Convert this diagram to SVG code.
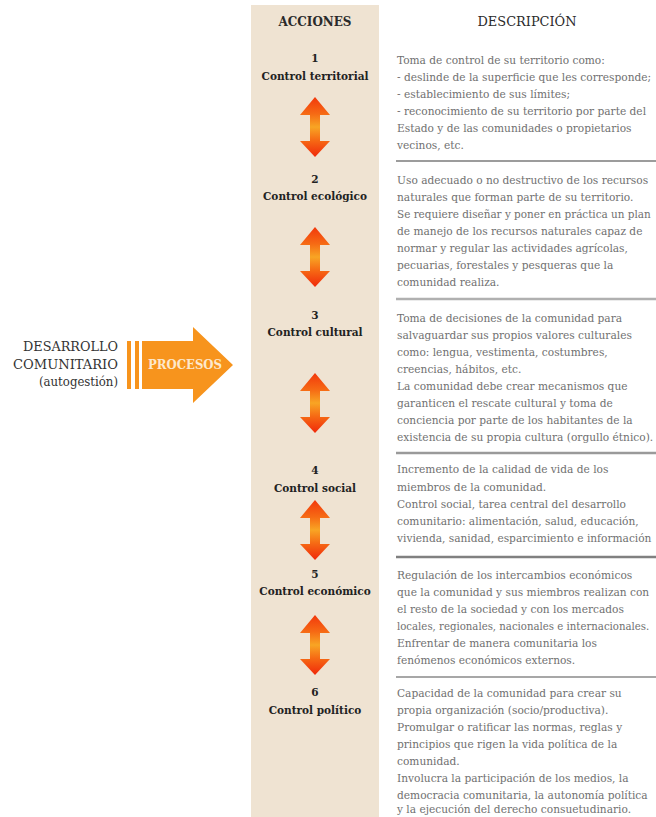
<svg xmlns="http://www.w3.org/2000/svg" width="656" height="817" viewBox="0 0 656 817">
<defs>
<linearGradient id="dg" x1="0" y1="0" x2="0" y2="1">
<stop offset="0" stop-color="#f2380c"/>
<stop offset="0.28" stop-color="#f66a14"/>
<stop offset="0.5" stop-color="#f8a524"/>
<stop offset="0.72" stop-color="#f66a14"/>
<stop offset="1" stop-color="#f0280a"/>
</linearGradient>
<path id="darrow" d="M0,0 L15,18 L5,18 L5,44 L15,44 L0,60 L-15,44 L-5,44 L-5,18 L-15,18 Z" fill="url(#dg)"/>
<style>
text{font-family:'DejaVu Serif','Liberation Serif',serif;font-stretch:condensed}
.hd{font-size:13px;fill:#2a2a2a}
.act{font-size:11.7px;font-weight:bold;fill:#222;text-anchor:middle}
.desc{font-size:11.8px;fill:#707070}
.lft{font-size:13px;fill:#333;text-anchor:end}
.sep{stroke:#9a9a9a;stroke-width:2.5}
</style>
</defs>
<rect width="656" height="817" fill="#ffffff"/>
<rect id="column" x="251" y="5" width="128" height="812" fill="#efe3d2"/>
<g id="headers">
<text class="hd" x="315" y="26" text-anchor="middle" font-weight="bold" textLength="73" lengthAdjust="spacingAndGlyphs">ACCIONES</text>
<text class="hd" x="527" y="26" text-anchor="middle" textLength="99" lengthAdjust="spacingAndGlyphs">DESCRIPCIÓN</text>
</g>
<g id="desarrollo">
<text class="lft" x="118" y="351" textLength="95" lengthAdjust="spacingAndGlyphs">DESARROLLO</text>
<text class="lft" x="118" y="369" textLength="105" lengthAdjust="spacingAndGlyphs">COMUNITARIO</text>
<text class="lft" x="118" y="386" textLength="79" lengthAdjust="spacingAndGlyphs">(autogestión)</text>
</g>
<g id="procesos">
<rect x="127" y="341" width="4" height="48" fill="#f7941d"/>
<rect x="135" y="341" width="4" height="48" fill="#f7941d"/>
<path d="M142,341 L193,341 L193,327 L233,365 L193,403 L193,389 L142,389 Z" fill="#f7941d"/>
<text x="185" y="369" text-anchor="middle" font-size="12.5" font-weight="bold" fill="#fde8cc" textLength="74" lengthAdjust="spacingAndGlyphs">PROCESOS</text>
</g>
<g id="separators">
<line x1="396" y1="161" x2="656" y2="161" stroke="#3a3a3a" stroke-width="1.2"/>
<line class="sep" x1="396" y1="299" x2="656" y2="299" style="stroke:#b0b0b0"/>
<line class="sep" x1="396" y1="453" x2="656" y2="453"/>
<line class="sep" x1="396" y1="557" x2="656" y2="557" style="stroke:#808080"/>
<line class="sep" x1="396" y1="677" x2="656" y2="677" style="stroke:#8a8a8a;stroke-width:1.6"/>
</g>
<g id="accion1">
<text class="act" x="315" y="62">1</text>
<text class="act" x="315" y="80">Control territorial</text>
</g>
<g id="desc1">
<text class="desc" x="397" y="64">Toma de control de su territorio como:</text>
<text class="desc" x="397" y="81">- deslinde de la superficie que les corresponde;</text>
<text class="desc" x="397" y="98">- establecimiento de sus límites;</text>
<text class="desc" x="397" y="115">- reconocimiento de su territorio por parte del</text>
<text class="desc" x="397" y="132">Estado y de las comunidades o propietarios</text>
<text class="desc" x="397" y="149">vecinos, etc.</text>
</g>
<g id="accion2">
<text class="act" x="315" y="183">2</text>
<text class="act" x="315" y="200">Control ecológico</text>
</g>
<g id="desc2">
<text class="desc" x="397" y="184">Uso adecuado o no destructivo de los recursos</text>
<text class="desc" x="397" y="201">naturales que forman parte de su territorio.</text>
<text class="desc" x="397" y="218" style="font-size:11.6px">Se requiere diseñar y poner en práctica un plan</text>
<text class="desc" x="397" y="235">de manejo de los recursos naturales capaz de</text>
<text class="desc" x="397" y="252">normar y regular las actividades agrícolas,</text>
<text class="desc" x="397" y="269">pecuarias, forestales y pesqueras que la</text>
<text class="desc" x="397" y="286">comunidad realiza.</text>
</g>
<g id="accion3">
<text class="act" x="315" y="319">3</text>
<text class="act" x="315" y="336">Control cultural</text>
</g>
<g id="desc3">
<text class="desc" x="397" y="322">Toma de decisiones de la comunidad para</text>
<text class="desc" x="397" y="339">salvaguardar sus propios valores culturales</text>
<text class="desc" x="397" y="356">como: lengua, vestimenta, costumbres,</text>
<text class="desc" x="397" y="373">creencias, hábitos, etc.</text>
<text class="desc" x="397" y="390">La comunidad debe crear mecanismos que</text>
<text class="desc" x="397" y="407">garanticen el rescate cultural y toma de</text>
<text class="desc" x="397" y="424">conciencia por parte de los habitantes de la</text>
<text class="desc" x="397" y="441">existencia de su propia cultura (orgullo étnico).</text>
</g>
<g id="accion4">
<text class="act" x="315" y="474">4</text>
<text class="act" x="315" y="492">Control social</text>
</g>
<g id="desc4">
<text class="desc" x="397" y="473">Incremento de la calidad de vida de los</text>
<text class="desc" x="397" y="491">miembros de la comunidad.</text>
<text class="desc" x="397" y="508">Control social, tarea central del desarrollo</text>
<text class="desc" x="397" y="525">comunitario: alimentación, salud, educación,</text>
<text class="desc" x="397" y="542">vivienda, sanidad, esparcimiento e información</text>
</g>
<g id="accion5">
<text class="act" x="315" y="578">5</text>
<text class="act" x="315" y="595">Control económico</text>
</g>
<g id="desc5">
<text class="desc" x="397" y="579">Regulación de los intercambios económicos</text>
<text class="desc" x="397" y="596">que la comunidad y sus miembros realizan con</text>
<text class="desc" x="397" y="613">el resto de la sociedad y con los mercados</text>
<text class="desc" x="397" y="630" style="font-size:11.3px">locales, regionales, nacionales e internacionales.</text>
<text class="desc" x="397" y="647">Enfrentar de manera comunitaria los</text>
<text class="desc" x="397" y="664">fenómenos económicos externos.</text>
</g>
<g id="accion6">
<text class="act" x="315" y="696">6</text>
<text class="act" x="315" y="714">Control político</text>
</g>
<g id="desc6">
<text class="desc" x="397" y="697">Capacidad de la comunidad para crear su</text>
<text class="desc" x="397" y="714">propia organización (socio/productiva).</text>
<text class="desc" x="397" y="731">Promulgar o ratificar las normas, reglas y</text>
<text class="desc" x="397" y="748">principios que rigen la vida política de la</text>
<text class="desc" x="397" y="765">comunidad.</text>
<text class="desc" x="397" y="782">Involucra la participación de los medios, la</text>
<text class="desc" x="397" y="799">democracia comunitaria, la autonomía política</text>
<text class="desc" x="397" y="813">y la ejecución del derecho consuetudinario.</text>
</g>
<g id="connectors">
<use href="#darrow" x="315" y="97"/>
<use href="#darrow" x="315" y="227"/>
<use href="#darrow" x="315" y="373"/>
<use href="#darrow" x="315" y="500"/>
<use href="#darrow" x="315" y="615"/>
</g>
</svg>
